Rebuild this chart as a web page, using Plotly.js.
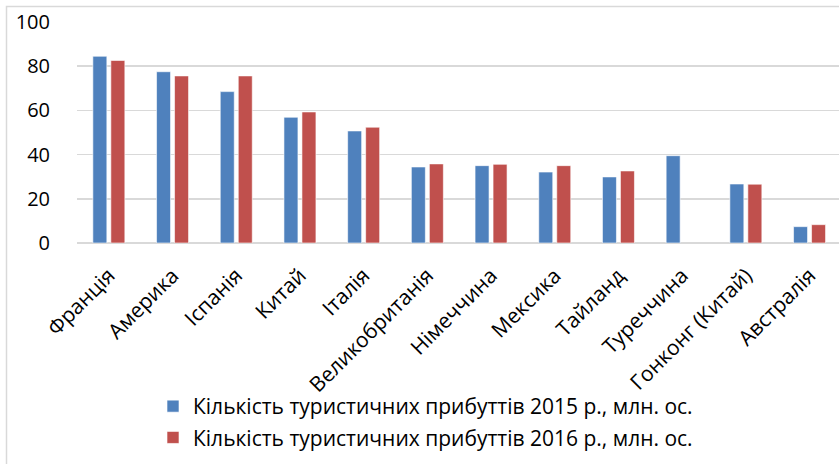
<!DOCTYPE html>
<html>
<head>
<meta charset="utf-8">
<script src="https://cdn.plot.ly/plotly-3.0.1.min.js"></script>
<style>
html,body{margin:0;padding:0;background:#fff;}
#chart{width:839px;height:464px;}
</style>
</head>
<body>
<div id="chart"></div>
<script>
const categories = ["Франція","Америка","Іспанія","Китай","Італія","Великобританія","Німеччина","Мексика","Тайланд","Туреччина","Гонконг (Китай)","Австралія"];
const arrivals2015 = [84.5, 77.5, 68.5, 56.9, 50.7, 34.4, 35.0, 32.1, 29.9, 39.5, 26.7, 7.4];
const arrivals2016 = [82.6, 75.6, 75.6, 59.3, 52.4, 35.8, 35.6, 35.0, 32.6, null, 26.6, 8.3];
const seriesNames = ["Кількість туристичних прибуттів 2015 р., млн. ос.","Кількість туристичних прибуттів 2016 р., млн. ос."];
const yTicks = [0, 20, 40, 60, 80, 100];

const W = 839, H = 464;
const mL = 77, mR = 0, mT = 22, mB = 221;
const pw = W - mL - mR, ph = H - mT - mB;
const px = v => (v - mL) / pw;
const py = v => (H - mB - v) / ph;
const catW = 63.7;

const FONT = "Open Sans, Liberation Sans, sans-serif";

const traces = [
  {type:"bar", x:categories, y:arrivals2015, name:seriesNames[0], legendgroup:"a",
   marker:{color:"#4F81BD", line:{color:"rgba(255,255,255,0.6)", width:1}}},
  {type:"bar", x:categories, y:arrivals2016, name:seriesNames[1], legendgroup:"b",
   marker:{color:"#C0504D", line:{color:"rgba(255,255,255,0.6)", width:1}}}
];

const layout = {
  width:W, height:H,
  margin:{l:mL, r:mR, t:mT, b:mB, pad:0},
  paper_bgcolor:"#fff", plot_bgcolor:"#fff",
  barmode:"group", bargap:0.435, bargroupgap:0.222,
  font:{family:FONT, color:"#000"},
  xaxis:{
    type:"category", range:[-0.5, -0.5 + pw/catW],
    tickangle:-45, tickfont:{size:21, family:FONT, color:"#000"},
    ticks:"outside", ticklen:11, tickcolor:"rgba(0,0,0,0)",
    showgrid:false, showline:false, zeroline:false, fixedrange:true
  },
  yaxis:{
    range:[0,100], tickvals:yTicks, ticktext:yTicks.map(String),
    tickfont:{size:20, family:FONT, color:"#000"},
    ticks:"outside", ticklen:22, tickcolor:"rgba(0,0,0,0)",
    showgrid:true, gridcolor:"#D9D9D9", gridwidth:1.5,
    zeroline:true, zerolinecolor:"#D9D9D9", zerolinewidth:1.5,
    showline:false, fixedrange:true
  },
  showlegend:true,
  legend:{
    orientation:"v", x:px(153), xanchor:"left", y:py(386), yanchor:"top",
    font:{size:21, family:FONT, color:"#000"},
    traceorder:"grouped", tracegroupgap:1, bgcolor:"rgba(0,0,0,0)", borderwidth:0
  },
  shapes:[
    {type:"path", xref:"paper", yref:"paper",
     path:`M ${px(6.5)} ${py(470)} L ${px(6.5)} ${py(6.5)} L ${px(850)} ${py(6.5)}`,
     line:{color:"#D9D9D9", width:1.5}}
  ]
};

Plotly.newPlot("chart", traces, layout, {displayModeBar:false, staticPlot:true});
</script>
</body>
</html>
